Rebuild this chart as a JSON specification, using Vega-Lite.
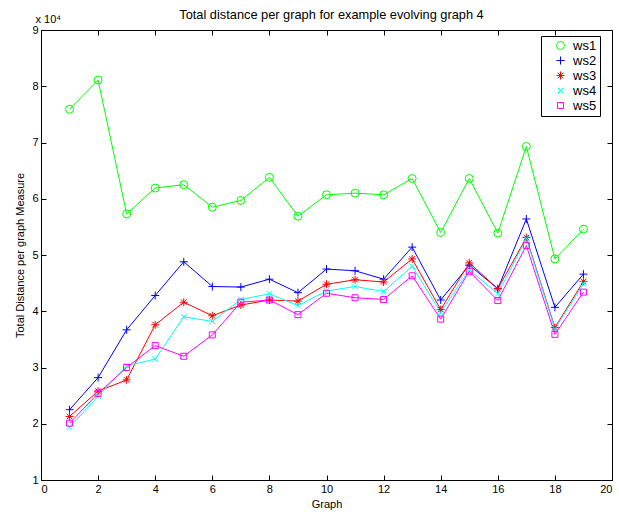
{
  "$schema": "https://vega.github.io/schema/vega-lite/v6.json",
  "width": 571,
  "height": 450,
  "autosize": {"type": "none"},
  "padding": {"left": 41, "top": 30, "right": 7, "bottom": 36},
  "background": "white",
  "title": {"text": "Total distance per graph for example evolving graph 4", "fontSize": 12.8, "fontWeight": "normal", "font": "Liberation Sans", "offset": -9, "color": "#000", "frame": "group", "dx": 5},
  "config": {
    "font": "Liberation Sans",
    "view": {"stroke": "#000", "strokeWidth": 1},
    "axis": {"grid": false, "domainColor": "#000", "tickColor": "#000", "labelColor": "#000", "titleColor": "#000", "labelFontSize": 11, "titleFontSize": 11, "titleFontWeight": "normal", "tickSize": -5, "labelPadding": 8},
    "legend": {"title": null, "orient": "none", "legendX": 500, "legendY": 6, "padding": 3, "strokeColor": "#000", "fillColor": "#fff", "labelFontSize": 13, "labelColor": "#000", "symbolOffset": 10, "labelOffset": 6, "rowPadding": 1, "symbolStrokeWidth": 1, "symbolSize": 64}
  },
  "data": {"values": [
    {"graph":1,"series":"ws1","value":75900},{"graph":2,"series":"ws1","value":81100},{"graph":3,"series":"ws1","value":57300},{"graph":4,"series":"ws1","value":61900},{"graph":5,"series":"ws1","value":62500},{"graph":6,"series":"ws1","value":58500},{"graph":7,"series":"ws1","value":59700},{"graph":8,"series":"ws1","value":63800},{"graph":9,"series":"ws1","value":56900},{"graph":10,"series":"ws1","value":60700},{"graph":11,"series":"ws1","value":61000},{"graph":12,"series":"ws1","value":60700},{"graph":13,"series":"ws1","value":63600},{"graph":14,"series":"ws1","value":54000},{"graph":15,"series":"ws1","value":63600},{"graph":16,"series":"ws1","value":53900},{"graph":17,"series":"ws1","value":69300},{"graph":18,"series":"ws1","value":49300},{"graph":19,"series":"ws1","value":54600},
    {"graph":1,"series":"ws2","value":22500},{"graph":2,"series":"ws2","value":28200},{"graph":3,"series":"ws2","value":36700},{"graph":4,"series":"ws2","value":42800},{"graph":5,"series":"ws2","value":48800},{"graph":6,"series":"ws2","value":44400},{"graph":7,"series":"ws2","value":44300},{"graph":8,"series":"ws2","value":45700},{"graph":9,"series":"ws2","value":43300},{"graph":10,"series":"ws2","value":47500},{"graph":11,"series":"ws2","value":47200},{"graph":12,"series":"ws2","value":45700},{"graph":13,"series":"ws2","value":51400},{"graph":14,"series":"ws2","value":42000},{"graph":15,"series":"ws2","value":48200},{"graph":16,"series":"ws2","value":44000},{"graph":17,"series":"ws2","value":56400},{"graph":18,"series":"ws2","value":40700},{"graph":19,"series":"ws2","value":46600},
    {"graph":1,"series":"ws3","value":21300},{"graph":2,"series":"ws3","value":25800},{"graph":3,"series":"ws3","value":27800},{"graph":4,"series":"ws3","value":37600},{"graph":5,"series":"ws3","value":41600},{"graph":6,"series":"ws3","value":39200},{"graph":7,"series":"ws3","value":41100},{"graph":8,"series":"ws3","value":42000},{"graph":9,"series":"ws3","value":41800},{"graph":10,"series":"ws3","value":44800},{"graph":11,"series":"ws3","value":45600},{"graph":12,"series":"ws3","value":45200},{"graph":13,"series":"ws3","value":49300},{"graph":14,"series":"ws3","value":40300},{"graph":15,"series":"ws3","value":48600},{"graph":16,"series":"ws3","value":44000},{"graph":17,"series":"ws3","value":53100},{"graph":18,"series":"ws3","value":37100},{"graph":19,"series":"ws3","value":45300},
    {"graph":1,"series":"ws4","value":19400},{"graph":2,"series":"ws4","value":24900},{"graph":3,"series":"ws4","value":30300},{"graph":4,"series":"ws4","value":31500},{"graph":5,"series":"ws4","value":39000},{"graph":6,"series":"ws4","value":38200},{"graph":7,"series":"ws4","value":42100},{"graph":8,"series":"ws4","value":43100},{"graph":9,"series":"ws4","value":41000},{"graph":10,"series":"ws4","value":43600},{"graph":11,"series":"ws4","value":44400},{"graph":12,"series":"ws4","value":43500},{"graph":13,"series":"ws4","value":48000},{"graph":14,"series":"ws4","value":39800},{"graph":15,"series":"ws4","value":47400},{"graph":16,"series":"ws4","value":43100},{"graph":17,"series":"ws4","value":52900},{"graph":18,"series":"ws4","value":36900},{"graph":19,"series":"ws4","value":44900},
    {"graph":1,"series":"ws5","value":20100},{"graph":2,"series":"ws5","value":25400},{"graph":3,"series":"ws5","value":30000},{"graph":4,"series":"ws5","value":33900},{"graph":5,"series":"ws5","value":32000},{"graph":6,"series":"ws5","value":35800},{"graph":7,"series":"ws5","value":41600},{"graph":8,"series":"ws5","value":42000},{"graph":9,"series":"ws5","value":39400},{"graph":10,"series":"ws5","value":43200},{"graph":11,"series":"ws5","value":42400},{"graph":12,"series":"ws5","value":42100},{"graph":13,"series":"ws5","value":46300},{"graph":14,"series":"ws5","value":38600},{"graph":15,"series":"ws5","value":47100},{"graph":16,"series":"ws5","value":41900},{"graph":17,"series":"ws5","value":51700},{"graph":18,"series":"ws5","value":35900},{"graph":19,"series":"ws5","value":43400}
  ]},
  "resolve": {"axis": {"x": "independent", "y": "independent"}},
  "layer": [
    {
      "mark": {"type": "line", "strokeWidth": 1},
      "encoding": {
        "x": {"field": "graph", "type": "quantitative", "scale": {"domain": [0, 20], "nice": false, "zero": false}, "axis": {"orient": "bottom", "title": "Graph", "values": [0,2,4,6,8,10,12,14,16,18,20], "titlePadding": 4, "domain": false}},
        "y": {"field": "value", "type": "quantitative", "scale": {"domain": [10000, 90000], "nice": false, "zero": false}, "axis": {"orient": "left", "title": "Total Distance per graph Measure", "values": [10000,20000,30000,40000,50000,60000,70000,80000,90000], "labelExpr": "datum.value / 10000", "titlePadding": 6, "domain": false}},
        "color": {"field": "series", "type": "nominal", "scale": {"domain": ["ws1","ws2","ws3","ws4","ws5"], "range": ["#00ff00","#0000ff","#ff0000","#00ffff","#ff00ff"]}},
        "detail": {"field": "series"}
      }
    },
    {
      "mark": {"type": "point", "filled": false, "strokeWidth": 1, "size": 64, "opacity": 1},
      "encoding": {
        "x": {"field": "graph", "type": "quantitative", "axis": null},
        "y": {"field": "value", "type": "quantitative", "axis": null},
        "color": {"field": "series", "type": "nominal"},
        "shape": {"field": "series", "type": "nominal", "scale": {"domain": ["ws1","ws2","ws3","ws4","ws5"], "range": ["circle", "M-1,0H1M0,-1V1", "M-1,0H1M0,-1V1M-0.7,-0.7L0.7,0.7M-0.7,0.7L0.7,-0.7", "M-0.7,-0.7L0.7,0.7M-0.7,0.7L0.7,-0.7", "M-0.75,-0.75H0.75V0.75H-0.75Z"]}}
      }
    },
    {
      "mark": {"type": "point", "opacity": 0},
      "encoding": {
        "x": {"field": "graph", "type": "quantitative", "axis": {"orient": "top", "values": [0,2,4,6,8,10,12,14,16,18,20], "labels": false, "domain": false, "title": "x 10⁴", "titleAnchor": "start", "titleAlign": "left", "titleX": -6, "titleY": -6, "titleFontSize": 11}},
        "y": {"field": "value", "type": "quantitative", "axis": {"orient": "right", "values": [10000,20000,30000,40000,50000,60000,70000,80000,90000], "labels": false, "domain": false, "title": null}}
      }
    }
  ]
}
